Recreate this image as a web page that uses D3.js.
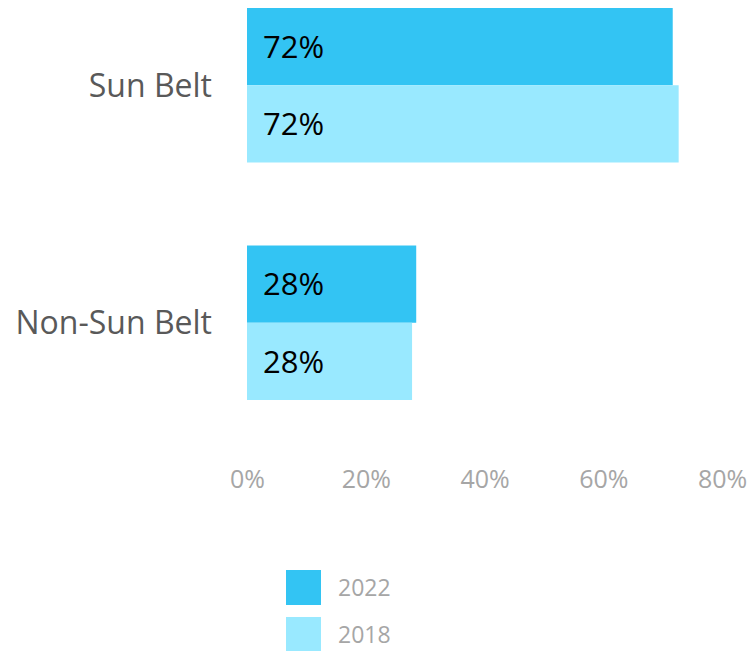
<!DOCTYPE html>
<html>
<head>
<meta charset="utf-8">
<script src="https://cdn.jsdelivr.net/npm/d3@7"></script>
<style>
  html, body { margin: 0; padding: 0; background: #fff; }
  svg { display: block; font-family: "Open Sans", "Noto Sans", sans-serif; }
</style>
</head>
<body>
<svg id="chart" width="750" height="651"></svg>
<script>
const categories = ["Sun Belt", "Non-Sun Belt"];
const seriesNames = ["2022", "2018"];
const values2022 = [71.7, 28.5];
const values2018 = [72.7, 27.8];
const labels2022 = ["72%", "28%"];
const labels2018 = ["72%", "28%"];
const tickValues = [0, 20, 40, 60, 80];
const tickLabels = ["0%", "20%", "40%", "60%", "80%"];
const colors = ["#33c4f3", "#99e9ff"];

const svg = d3.select("#chart");

const x = d3.scaleLinear().domain([0, 80]).range([247, 722]);
const y = d3.scaleBand().domain(categories).range([8, 400]).paddingInner(0.3495).paddingOuter(0);
const ySub = d3.scaleBand().domain(seriesNames).range([0, y.bandwidth()]).padding(0);

const series = [
  { name: "2022", values: values2022, labels: labels2022, color: colors[0] },
  { name: "2018", values: values2018, labels: labels2018, color: colors[1] }
];

const groups = svg.selectAll("g.cat").data(categories).join("g")
  .attr("class", "cat")
  .attr("transform", d => `translate(0,${y(d)})`);

series.forEach(s => {
  groups.append("rect")
    .attr("x", x(0))
    .attr("y", ySub(s.name))
    .attr("width", (d, i) => x(s.values[i]) - x(0))
    .attr("height", ySub.bandwidth())
    .attr("fill", s.color);
  groups.append("text")
    .attr("x", x(0) + 16)
    .attr("y", ySub(s.name) + ySub.bandwidth() / 2 + 31 * 0.36)
    .attr("font-size", 31)
    .attr("fill", "#000")
    .text((d, i) => s.labels[i]);
});

// category labels
svg.append("g").selectAll("text").data(categories).join("text")
  .attr("x", 212)
  .attr("y", d => y(d) + y.bandwidth() / 2 + 32 * 0.36)
  .attr("text-anchor", "end")
  .attr("font-size", 32)
  .attr("fill", "#595959")
  .text(d => d);

// x axis
const xAxis = d3.axisBottom(x).tickValues(tickValues)
  .tickFormat((d, i) => tickLabels[i]).tickSize(0).tickPadding(0);
const ax = svg.append("g").attr("transform", "translate(0,470)").call(xAxis);
ax.select(".domain").remove();
ax.selectAll("text")
  .attr("dy", null)
  .attr("y", 18)
  .attr("font-size", 25)
  .attr("font-family", "'Open Sans', 'Noto Sans', sans-serif")
  .attr("fill", "#a6a6a6");

// legend
const legend = svg.append("g");
const legendY = d3.scaleBand().domain(seriesNames).range([570, 652]).paddingInner(0.255).paddingOuter(0);
series.forEach(s => {
  legend.append("rect")
    .attr("x", 286).attr("y", legendY(s.name))
    .attr("width", 35).attr("height", 35)
    .attr("fill", s.color);
  legend.append("text")
    .attr("x", 338).attr("y", legendY(s.name) + 26)
    .attr("font-size", 23)
    .attr("fill", "#a6a6a6")
    .text(s.name);
});
</script>
</body>
</html>
